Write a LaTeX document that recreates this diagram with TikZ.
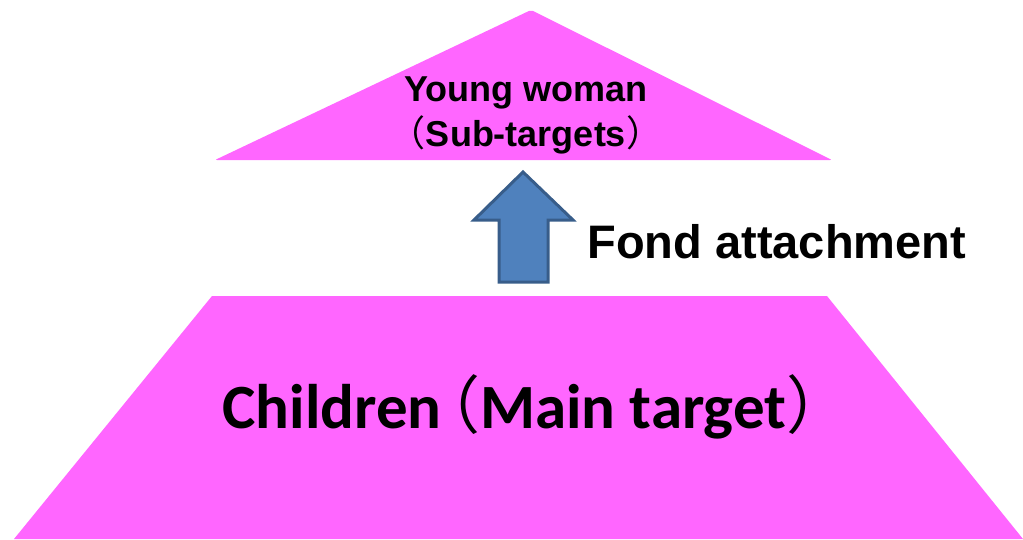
\documentclass[tikz,border=0pt]{standalone}
\usepackage{fontspec}
\setmainfont{Liberation Sans}
\newfontfamily\cali{Carlito}
\newfontfamily\cjk[RawFeature=+halt]{Noto Sans CJK JP}
\definecolor{hong}{HTML}{FF66FF}
\definecolor{xanh}{HTML}{4F81BD}
\definecolor{vien}{HTML}{385D8A}
\begin{document}
\begin{tikzpicture}[x=1pt,y=-1pt]
			\useasboundingbox (0,0) rectangle (1023,539);
			%			Tang tren
			\fill[hong,rounded corners=2pt] (531,10) -- (832,160) -- (215,160) -- cycle;
			\node[font=\bfseries\fontsize{36}{45}\selectfont,align=center] (tren) at (526,115) {Young woman\\{\cjk\mdseries（}Sub-targets{\cjk\mdseries）}};
			%			Tang duoi
			\fill[hong] (212,296) -- (827,296) -- (1023,539) -- (14,539) -- cycle;
			\node[font=\cali\bfseries\fontsize{63}{63}\selectfont,anchor=base] (duoi) at (520,428) {Children\hspace{7pt}{\cjk\mdseries（}Main target{\cjk\mdseries）}};
			%			Mui ten
			\draw[vien,fill=xanh,line width=3pt] (523,172) -- (573,220) -- (548,220) -- (548,282) -- (499,282) -- (499,220) -- (474,220) -- cycle;
			\node[font=\bfseries\fontsize{47}{50}\selectfont,anchor=base west] (lien) at (584,258) {Fond attachment};
		\end{tikzpicture}
\end{document}
